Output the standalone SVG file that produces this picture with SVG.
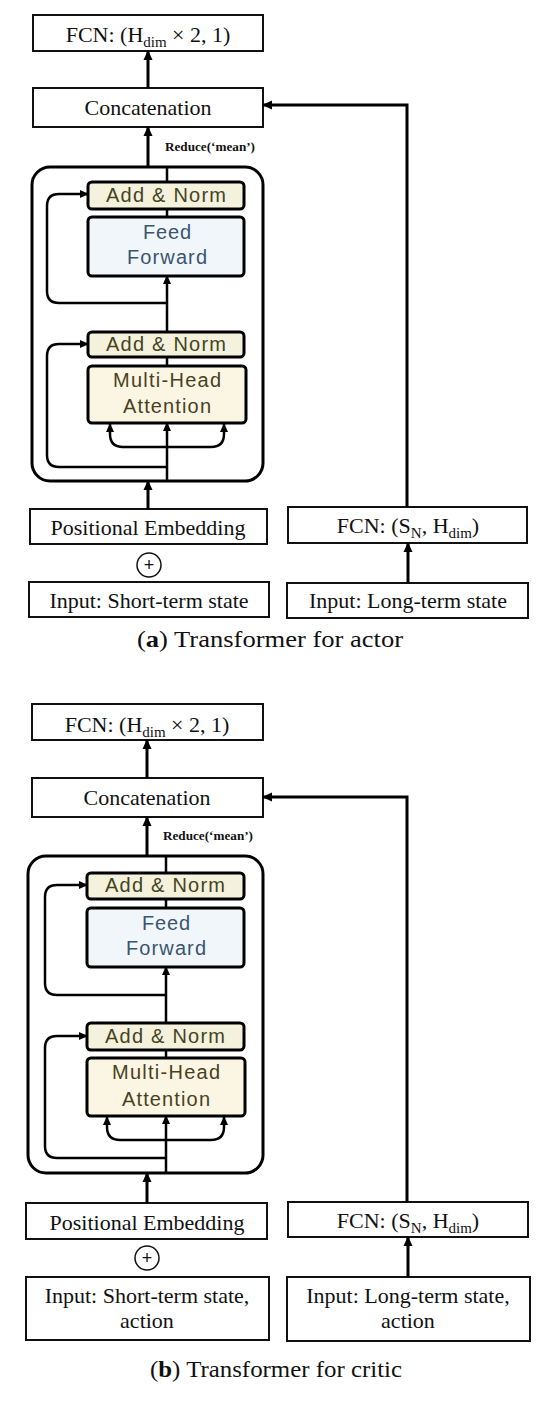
<svg xmlns="http://www.w3.org/2000/svg" width="550" height="1402" viewBox="0 0 550 1402">
<style>
.box{fill:#fff;stroke:#111;stroke-width:2}
.outer{fill:none;stroke:#000;stroke-width:3}
.an{fill:#f4f2dd;stroke:#000;stroke-width:3}
.ff{fill:#f1f6fa;stroke:#000;stroke-width:3}
.mha{fill:#faf6e3;stroke:#000;stroke-width:3}
.t{font-family:"Liberation Serif","Times New Roman",serif;font-size:22px;fill:#111;text-anchor:middle}
.red{font-family:"Liberation Serif","Times New Roman",serif;font-size:12.5px;font-weight:bold;fill:#111}
.s{font-family:"Liberation Sans",Arial,sans-serif;font-size:20px;text-anchor:middle}
.tan{fill:#45441f}
.tff{fill:#3a5570}
.tmha{fill:#4b3f1e}
.cap{font-family:"Liberation Serif","Times New Roman",serif;font-size:24px;fill:#111;text-anchor:middle}
.c{fill:none;stroke:#000;stroke-width:3}
.ci{fill:none;stroke:#000;stroke-width:2.5}
.plus{fill:#fff;stroke:#111;stroke-width:1.5}
</style>
<defs>
<marker id="ah" viewBox="0 0 10 10" refX="9" refY="5" markerWidth="10" markerHeight="10" markerUnits="userSpaceOnUse" orient="auto"><path d="M0,0.5 L10,5 L0,9.5 z" fill="#000"/></marker>
<marker id="ahs" viewBox="0 0 10 10" refX="9" refY="5" markerWidth="9" markerHeight="9" markerUnits="userSpaceOnUse" orient="auto"><path d="M0,0.5 L10,5 L0,9.5 z" fill="#000"/></marker>
</defs>

<!-- ===== Panel (a) ===== -->
<g id="a-encoder-frame"><rect class="outer" x="32" y="167" width="231" height="314" rx="18"/></g>
<g id="a-fcn-out"><rect class="box" x="33" y="15" width="230" height="36"/><text class="t" x="148" y="42">FCN: (H<tspan dy="5" font-size="15">dim</tspan><tspan dy="-5"> × 2, 1)</tspan></text></g>
<g id="a-concat"><rect class="box" x="33" y="88" width="230" height="39"/><text class="t" x="148" y="115">Concatenation</text></g>
<g id="a-reduce-label"><text class="red" x="165" y="151" textLength="90" lengthAdjust="spacingAndGlyphs">Reduce(‘mean’)</text></g>
<g id="a-addnorm1"><rect class="an" x="88" y="182" width="156" height="27" rx="4"/><text class="s tan" x="166" y="202" textLength="120" lengthAdjust="spacing">Add &amp; Norm</text></g>
<g id="a-ff"><rect class="ff" x="88" y="217" width="156" height="59" rx="4"/><text class="s tff" x="167" y="239" textLength="48" lengthAdjust="spacing">Feed</text><text class="s tff" x="167" y="264" textLength="80" lengthAdjust="spacing">Forward</text></g>
<g id="a-addnorm2"><rect class="an" x="88" y="332" width="156" height="25" rx="4"/><text class="s tan" x="166" y="351" textLength="120" lengthAdjust="spacing">Add &amp; Norm</text></g>
<g id="a-mha"><rect class="mha" x="88" y="366" width="158" height="57" rx="4"/><text class="s tmha" x="167" y="387" textLength="108" lengthAdjust="spacing">Multi-Head</text><text class="s tmha" x="167" y="413" textLength="88" lengthAdjust="spacing">Attention</text></g>
<g id="a-pe"><rect class="box" x="30" y="509" width="237" height="35"/><text class="t" x="148" y="535">Positional Embedding</text></g>
<g id="a-plus"><circle class="plus" cx="149" cy="565" r="12"/><text x="149" y="571" font-family="Liberation Sans,Arial,sans-serif" font-size="18" text-anchor="middle" fill="#111">+</text></g>
<g id="a-input-short"><rect class="box" x="29" y="582" width="240" height="35"/><text class="t" x="149" y="608">Input: Short-term state</text></g>
<g id="a-fcn-sn"><rect class="box" x="288" y="507" width="239" height="36"/><text class="t" x="408" y="533">FCN: (S<tspan dy="5" font-size="15">N</tspan><tspan dy="-5">, H</tspan><tspan dy="5" font-size="15">dim</tspan><tspan dy="-5">)</tspan></text></g>
<g id="a-input-long"><rect class="box" x="287" y="583" width="241" height="35"/><text class="t" x="408" y="608">Input: Long-term state</text></g>
<g id="a-caption"><text class="cap" x="270" y="647" textLength="266" lengthAdjust="spacingAndGlyphs">(<tspan font-weight="bold">a</tspan>) Transformer for actor</text></g>

<g id="a-connectors">
<path class="c" d="M148,88 V51" marker-end="url(#ah)"/>
<path class="c" d="M148,167 V127" marker-end="url(#ah)"/>
<path class="ci" d="M167,182 V166"/>
<path class="ci" d="M167,217 V209"/>
<path class="ci" d="M167,332 V276" marker-end="url(#ahs)"/>
<path class="ci" d="M167,303 H59 Q47,303 47,291 V206 Q47,194 59,194 H88" marker-end="url(#ahs)"/>
<path class="ci" d="M167,366 V357"/>
<path class="ci" d="M167,481 V423" marker-end="url(#ahs)"/>
<path class="ci" d="M167,447 H123 Q110,447 110,434 V424" marker-end="url(#ahs)"/>
<path class="ci" d="M167,447 H211 Q224,447 224,434 V424" marker-end="url(#ahs)"/>
<path class="ci" d="M167,467 H59 Q47,467 47,455 V356 Q47,344 59,344 H88" marker-end="url(#ahs)"/>
<path class="c" d="M148,509 V481" marker-end="url(#ah)"/>
<path class="c" d="M407,507 V105 H263" marker-end="url(#ah)"/>
<path class="c" d="M408,583 V543" marker-end="url(#ah)"/>
</g>

<!-- ===== Panel (b) ===== -->
<g id="b-encoder-frame"><rect class="outer" x="28" y="856" width="235" height="317" rx="18"/></g>
<g id="b-fcn-out"><rect class="box" x="32" y="704" width="231" height="36"/><text class="t" x="147" y="732">FCN: (H<tspan dy="5" font-size="15">dim</tspan><tspan dy="-5"> × 2, 1)</tspan></text></g>
<g id="b-concat"><rect class="box" x="32" y="778" width="231" height="39"/><text class="t" x="147" y="805">Concatenation</text></g>
<g id="b-reduce-label"><text class="red" x="163" y="840" textLength="90" lengthAdjust="spacingAndGlyphs">Reduce(‘mean’)</text></g>
<g id="b-addnorm1"><rect class="an" x="87" y="873" width="157" height="26" rx="4"/><text class="s tan" x="165" y="892" textLength="120" lengthAdjust="spacing">Add &amp; Norm</text></g>
<g id="b-ff"><rect class="ff" x="87" y="908" width="157" height="59" rx="4"/><text class="s tff" x="166" y="930" textLength="48" lengthAdjust="spacing">Feed</text><text class="s tff" x="166" y="955" textLength="80" lengthAdjust="spacing">Forward</text></g>
<g id="b-addnorm2"><rect class="an" x="87" y="1023" width="157" height="27" rx="4"/><text class="s tan" x="165" y="1043" textLength="120" lengthAdjust="spacing">Add &amp; Norm</text></g>
<g id="b-mha"><rect class="mha" x="87" y="1058" width="158" height="58" rx="4"/><text class="s tmha" x="166" y="1079" textLength="108" lengthAdjust="spacing">Multi-Head</text><text class="s tmha" x="166" y="1106" textLength="88" lengthAdjust="spacing">Attention</text></g>
<g id="b-pe"><rect class="box" x="26" y="1203" width="241" height="36"/><text class="t" x="147" y="1230">Positional Embedding</text></g>
<g id="b-plus"><circle class="plus" cx="147" cy="1258" r="12"/><text x="147" y="1264" font-family="Liberation Sans,Arial,sans-serif" font-size="18" text-anchor="middle" fill="#111">+</text></g>
<g id="b-input-short"><rect class="box" x="26" y="1277" width="243" height="63"/><text class="t" x="147" y="1303">Input: Short-term state,</text><text class="t" x="147" y="1328">action</text></g>
<g id="b-fcn-sn"><rect class="box" x="288" y="1202" width="240" height="35"/><text class="t" x="408" y="1228">FCN: (S<tspan dy="5" font-size="15">N</tspan><tspan dy="-5">, H</tspan><tspan dy="5" font-size="15">dim</tspan><tspan dy="-5">)</tspan></text></g>
<g id="b-input-long"><rect class="box" x="287" y="1277" width="243" height="64"/><text class="t" x="408" y="1303">Input: Long-term state,</text><text class="t" x="408" y="1328">action</text></g>
<g id="b-caption"><text class="cap" x="276" y="1377" textLength="252" lengthAdjust="spacingAndGlyphs">(<tspan font-weight="bold">b</tspan>) Transformer for critic</text></g>

<g id="b-connectors">
<path class="c" d="M147,778 V740" marker-end="url(#ah)"/>
<path class="c" d="M147,856 V817" marker-end="url(#ah)"/>
<path class="ci" d="M166,873 V855"/>
<path class="ci" d="M166,908 V899"/>
<path class="ci" d="M166,1023 V967" marker-end="url(#ahs)"/>
<path class="ci" d="M166,995 H57 Q45,995 45,983 V897 Q45,885 57,885 H87" marker-end="url(#ahs)"/>
<path class="ci" d="M166,1058 V1050"/>
<path class="ci" d="M166,1173 V1116" marker-end="url(#ahs)"/>
<path class="ci" d="M166,1140 H120 Q107,1140 107,1127 V1117" marker-end="url(#ahs)"/>
<path class="ci" d="M166,1140 H211 Q224,1140 224,1127 V1117" marker-end="url(#ahs)"/>
<path class="ci" d="M166,1158 H57 Q45,1158 45,1146 V1048 Q45,1036 57,1036 H87" marker-end="url(#ahs)"/>
<path class="c" d="M147,1203 V1173" marker-end="url(#ah)"/>
<path class="c" d="M407,1202 V797 H263" marker-end="url(#ah)"/>
<path class="c" d="M408,1277 V1237" marker-end="url(#ah)"/>
</g>
</svg>
